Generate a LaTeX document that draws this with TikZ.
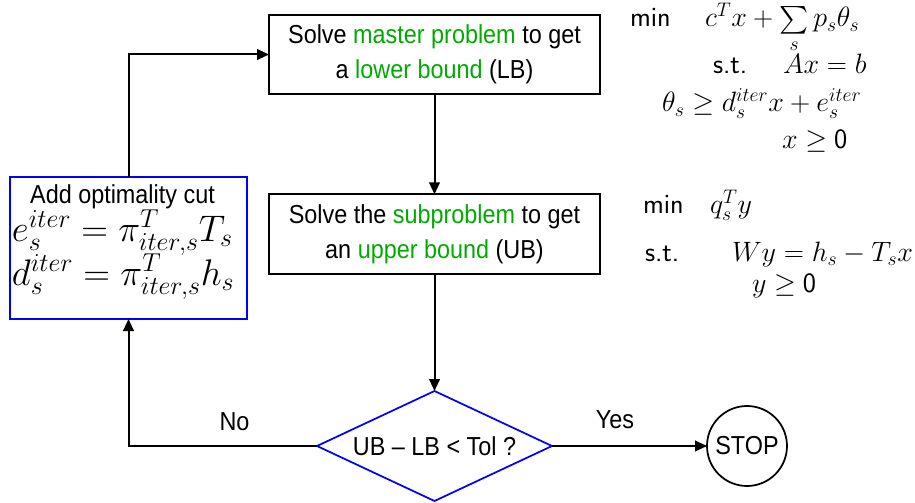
\RequirePackage{fix-cm}
\documentclass[tikz,border=0pt]{standalone}
\usepackage{exscale}
\usepackage{fontspec}
\setmainfont{Liberation Sans}[FakeStretch=0.9]
\usetikzlibrary{shapes.geometric,arrows.meta}
\definecolor{mygreen}{RGB}{0,170,0}
\definecolor{myblue}{RGB}{0,0,255}
\begin{document}
\begin{tikzpicture}[x=0.75pt,y=-0.75pt,
  every node/.style={inner sep=0pt,outer sep=0pt},
  txt/.style={font=\fontsize{19.5}{26.25}\selectfont},
  procbox/.style={draw=black,line width=1.5pt,minimum width=248.25pt,minimum height=59.5pt,align=center,txt},
  cutbox/.style={draw=myblue,line width=1.5pt,minimum width=177.75pt,minimum height=106.5pt},
  decbox/.style={draw=myblue,line width=1.3pt,diamond,aspect=2.14,minimum width=176.25pt,minimum height=82.5pt,txt},
  stopbox/.style={draw=black,line width=1.3pt,circle,minimum size=60pt,txt},
  arr/.style={draw=black,line width=1.5pt,-{Triangle[length=9pt,width=8pt]}},
  rmath/.style={anchor=base west,font=\fontsize{21}{25}\selectfont},
  lmath/.style={anchor=base west,font=\fontsize{27.75}{33}\selectfont},
  hl/.style={text=mygreen}]
\useasboundingbox (0,0) rectangle (915,503);

\node[procbox] (master) at (434.5,54.5) {Solve \textcolor{mygreen}{master problem} to get\\ a \textcolor{mygreen}{lower bound} (LB)};
\node[procbox] (sub) at (434.5,234) {Solve the \textcolor{mygreen}{subproblem} to get\\ an \textcolor{mygreen}{upper bound} (UB)};
\node[cutbox] (cut) at (128.5,248) {};
\node[txt,anchor=base] (cuttitle) at (122.5,204) {Add optimality cut};
\node[lmath] (eq1) at (12,241) {$e_s^{iter}=\pi_{iter,s}^{T}T_s$};
\node[lmath] (eq2) at (12,285) {$d_s^{iter}=\pi_{iter,s}^{T}h_s$};
\node[decbox] (dec) at (434.5,446) {UB -- LB < Tol ?};
\node[stopbox] (stop) at (747,446) {STOP};

\draw[arr] (master.south) -- (sub.north);
\draw[arr] (sub.south) -- (dec.north);
\draw[arr] (dec.east) -- (stop.west);
\draw[arr] (dec.west) -| (cut.south);
\draw[arr] (cut.north) |- (master.west);
\node[txt,anchor=base] (yes) at (615,428) {Yes};
\node[txt,anchor=base] (no) at (234.5,430) {No};

% master problem
\node[rmath] (m1a) at (630,27) {\sffamily min};
\node[rmath] (m1b) at (705,27) {$c^Tx+\sum\limits_s p_s\theta_s$};
\node[rmath] (m2a) at (713,74) {\sffamily s.t.};
\node[rmath] (m2b) at (783,74) {$Ax=b$};
\node[rmath] (m3) at (662,112) {$\theta_s\geq d_s^{iter}x+e_s^{iter}$};
\node[rmath] (m4) at (782,149) {$x\geq$ \sffamily 0};
% subproblem
\node[rmath] (s1a) at (643,214) {\sffamily min};
\node[rmath] (s1b) at (710,214) {$q_s^T y$};
\node[rmath] (s2a) at (645,261) {\sffamily s.t.};
\node[rmath] (s2b) at (732,261) {$Wy=h_s-T_sx$};
\node[rmath] (s3) at (752,292) {$y\geq$ \sffamily 0};
\end{tikzpicture}
\end{document}
